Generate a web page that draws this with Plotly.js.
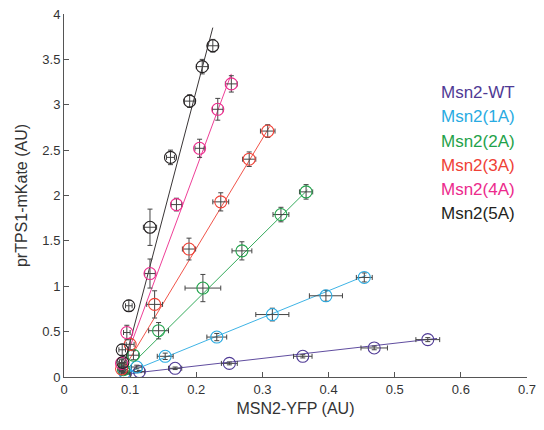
<!DOCTYPE html>
<html>
<head>
<meta charset="utf-8">
<script src="https://cdn.plot.ly/plotly-3.0.1.min.js"></script>
<style>html,body{margin:0;padding:0;background:#fff;}#chart{width:544px;height:430px;}</style>
</head>
<body>
<div id="chart"></div>
<script>
// Series names and colours
const seriesNames = ["Msn2-WT", "Msn2(1A)", "Msn2(2A)", "Msn2(3A)", "Msn2(4A)", "Msn2(5A)"];
const seriesColors = ["#4f3a95", "#29abe2", "#1fa24a", "#ef4136", "#ec2a8c", "#231f20"];

// Data points (MSN2-YFP, prTPS1-mKate) with errors
const wtX   = [0.093, 0.114, 0.168, 0.250, 0.361, 0.469, 0.550];
const wtY   = [0.040, 0.060, 0.096, 0.150, 0.228, 0.320, 0.412];
const wtEX  = [0.006, 0.008, 0.010, 0.012, 0.014, 0.020, 0.018];
const wtEY  = [0.010, 0.012, 0.014, 0.016, 0.018, 0.020, 0.022];

const a1X   = [0.092, 0.110, 0.153, 0.231, 0.315, 0.396, 0.454];
const a1Y   = [0.050, 0.110, 0.228, 0.440, 0.688, 0.895, 1.097];
const a1EX  = [0.006, 0.008, 0.012, 0.015, 0.025, 0.025, 0.012];
const a1EY  = [0.015, 0.020, 0.035, 0.040, 0.070, 0.060, 0.050];

const a2X   = [0.090, 0.105, 0.143, 0.210, 0.269, 0.328, 0.366];
const a2Y   = [0.080, 0.240, 0.510, 0.980, 1.390, 1.790, 2.040];
const a2EX  = [0.006, 0.008, 0.015, 0.027, 0.015, 0.012, 0.010];
const a2EY  = [0.030, 0.050, 0.090, 0.150, 0.100, 0.080, 0.080];

const a3X   = [0.087, 0.100, 0.137, 0.189, 0.237, 0.280, 0.308];
const a3Y   = [0.090, 0.360, 0.800, 1.410, 1.930, 2.400, 2.710];
const a3EX  = [0.005, 0.006, 0.012, 0.010, 0.012, 0.010, 0.011];
const a3EY  = [0.030, 0.060, 0.150, 0.120, 0.100, 0.080, 0.070];

const a4X   = [0.087, 0.095, 0.130, 0.170, 0.205, 0.2325, 0.253];
const a4Y   = [0.150, 0.490, 1.140, 1.900, 2.520, 2.950, 3.230];
const a4EX  = [0.005, 0.005, 0.008, 0.008, 0.007, 0.008, 0.009];
const a4EY  = [0.040, 0.080, 0.160, 0.070, 0.100, 0.120, 0.090];

const a5X   = [0.089, 0.088, 0.098, 0.130, 0.161, 0.190, 0.209, 0.225];
const a5Y   = [0.160, 0.300, 0.785, 1.650, 2.420, 3.040, 3.420, 3.650];
const a5EX  = [0.005, 0.005, 0.005, 0.010, 0.006, 0.008, 0.009, 0.008];
const a5EY  = [0.040, 0.060, 0.060, 0.200, 0.080, 0.070, 0.080, 0.070];

// Fit lines (endpoints)
const wtFitX = [0.090, 0.564]; const wtFitY = [0.030, 0.425];
const a1FitX = [0.090, 0.457]; const a1FitY = [0.030, 1.120];
const a2FitX = [0.090, 0.368]; const a2FitY = [0.050, 2.060];
const a3FitX = [0.087, 0.311]; const a3FitY = [0.050, 2.760];
const a4FitX = [0.087, 0.253]; const a4FitY = [0.080, 3.340];
const a5FitX = [0.087, 0.225]; const a5FitY = [0.030, 3.850];

const pts = [
  [wtX, wtY, wtEX, wtEY, wtFitX, wtFitY],
  [a1X, a1Y, a1EX, a1EY, a1FitX, a1FitY],
  [a2X, a2Y, a2EX, a2EY, a2FitX, a2FitY],
  [a3X, a3Y, a3EX, a3EY, a3FitX, a3FitY],
  [a4X, a4Y, a4EX, a4EY, a4FitX, a4FitY],
  [a5X, a5Y, a5EX, a5EY, a5FitX, a5FitY]
];

const traces = [];
pts.forEach((s, i) => {
  traces.push({
    x: s[4], y: s[5], type: 'scatter', mode: 'lines',
    line: {color: seriesColors[i], width: 1},
    opacity: 0.9,
    showlegend: false, hoverinfo: 'skip'
  });
});
pts.forEach((s, i) => {
  traces.push({
    x: s[0], y: s[1], type: 'scatter', mode: 'markers',
    marker: {symbol: 'circle-open', size: 12, color: seriesColors[i], line: {width: 1.1, color: seriesColors[i]}},
    error_x: {type: 'data', array: s[2], visible: true, color: '#444', thickness: 1, width: 2.5},
    error_y: {type: 'data', array: s[3], visible: true, color: '#444', thickness: 1, width: 2.5},
    name: seriesNames[i], showlegend: false
  });
});

const annotations = seriesNames.map((n, i) => ({
  xref: 'paper', yref: 'paper', x: 0.81, y: 0.783 - i * 0.0665,
  xanchor: 'left', yanchor: 'middle', showarrow: false,
  text: n, font: {family: 'Arial, Liberation Sans, sans-serif', size: 17, color: seriesColors[i]}
}));

const layout = {
  width: 544, height: 430,
  margin: {l: 64, r: 17, t: 14, b: 53},
  paper_bgcolor: '#fff', plot_bgcolor: '#fff',
  font: {family: 'Arial, Liberation Sans, sans-serif', color: '#333'},
  xaxis: {
    range: [0, 0.7], dtick: 0.1, tick0: 0,
    showgrid: false, zeroline: false,
    showline: true, linecolor: '#555', linewidth: 1,
    ticks: 'inside', ticklen: 5, tickcolor: '#555',
    tickfont: {size: 13, color: '#333'},
    title: {text: 'MSN2-YFP (AU)', font: {size: 16, color: '#333'}, standoff: 7}
  },
  yaxis: {
    range: [0, 4], dtick: 0.5, tick0: 0,
    showgrid: false, zeroline: false,
    showline: true, linecolor: '#555', linewidth: 1,
    ticks: 'inside', ticklen: 5, tickcolor: '#555',
    tickfont: {size: 13, color: '#333'},
    title: {text: 'prTPS1-mKate (AU)', font: {size: 16, color: '#333'}, standoff: 10}
  },
  annotations: annotations,
  showlegend: false
};

Plotly.newPlot('chart', traces, layout, {displayModeBar: false, staticPlot: true});
</script>
</body>
</html>
